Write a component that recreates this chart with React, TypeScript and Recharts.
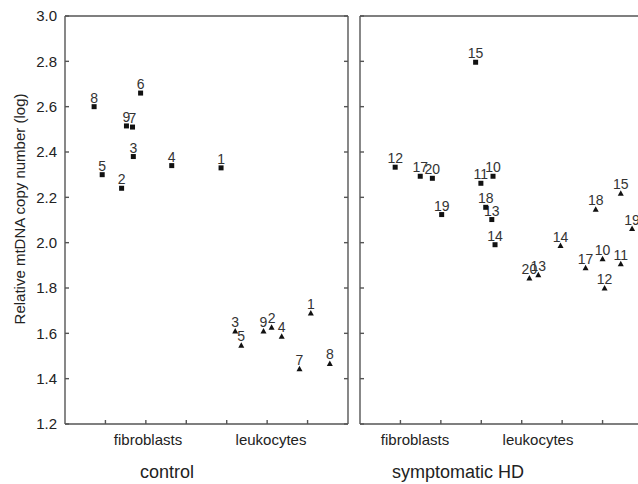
import React from 'react';
import { ScatterChart, Scatter, XAxis, YAxis, Label } from 'recharts';

const FONT = '"Liberation Sans", Arial, Helvetica, sans-serif';

const yTicks = [1.2, 1.4, 1.6, 1.8, 2.0, 2.2, 2.4, 2.6, 2.8, 3.0];
const xTicks = [1, 2, 3, 4, 5, 6];
const categoryNames = ['fibroblasts', 'leukocytes'];
const groupTitles = ['control', 'symptomatic HD'];
const yAxisTitle = 'Relative mtDNA copy number (log)';

// control – fibroblasts
const ctrlFibroIds = [1, 2, 3, 4, 5, 6, 7, 8, 9];
const ctrlFibroX = [3.86, 1.4, 1.69, 2.64, 0.92, 1.87, 1.67, 0.72, 1.52];
const ctrlFibroY = [2.33, 2.24, 2.38, 2.34, 2.3, 2.66, 2.51, 2.6, 2.515];

// control – leukocytes
const ctrlLeukoIds = [1, 2, 3, 4, 5, 7, 8, 9];
const ctrlLeukoX = [6.08, 5.11, 4.21, 5.36, 4.36, 5.8, 6.55, 4.91];
const ctrlLeukoY = [1.69, 1.627, 1.61, 1.587, 1.547, 1.444, 1.467, 1.61];

// symptomatic HD – fibroblasts
const hdFibroIds = [10, 11, 12, 13, 14, 15, 17, 18, 19, 20];
const hdFibroX = [3.29, 2.99, 0.87, 3.26, 3.34, 2.86, 1.49, 3.11, 2.02, 1.79];
const hdFibroY = [2.293, 2.262, 2.333, 2.102, 1.991, 2.796, 2.293, 2.156, 2.124, 2.284];

// symptomatic HD – leukocytes
const hdLeukoIds = [10, 11, 12, 13, 14, 15, 17, 18, 19, 20];
const hdLeukoX = [6.0, 6.45, 6.05, 4.41, 4.96, 6.45, 5.58, 5.83, 6.73, 4.19];
const hdLeukoY = [1.929, 1.907, 1.8, 1.858, 1.987, 2.218, 1.889, 2.147, 2.062, 1.844];

const build = (ids: number[], xs: number[], ys: number[]) =>
  ids.map((id, i) => ({ id, x: xs[i], y: ys[i] }));

const makeShape = (kind: 'square' | 'triangle') => (props: any) => {
  const { cx, cy, payload } = props;
  if (cx == null || cy == null) return <g />;
  return (
    <g>
      {kind === 'square' ? (
        <rect x={cx - 2.5} y={cy - 2.5} width={5} height={5} fill="#111" />
      ) : (
        <polygon
          points={`${cx},${cy - 3} ${cx + 3},${cy + 2.5} ${cx - 3},${cy + 2.5}`}
          fill="#111"
        />
      )}
      <text
        x={cx}
        y={cy - 4}
        textAnchor="middle"
        fontSize={14}
        fontFamily={FONT}
        fill="#333"
      >
        {payload.id}
      </text>
    </g>
  );
};

const squareShape = makeShape('square');
const triangleShape = makeShape('triangle');

const AXIS = '#555';
const lineStyle = { stroke: AXIS, strokeWidth: 1.4 };
const blank = () => '';

type PanelProps = {
  left: number;
  width: number;
  margin: { top: number; right: number; bottom: number; left: number };
  showYLabels: boolean;
  fibro: { id: number; x: number; y: number }[];
  leuko: { id: number; x: number; y: number }[];
};

const Panel = (p: PanelProps) => (
  <div style={{ position: 'absolute', left: p.left, top: 0 }}>
    <ScatterChart width={p.width} height={484} margin={p.margin}>
      <XAxis
        xAxisId="x"
        dataKey="x"
        type="number"
        domain={[0, 7]}
        ticks={xTicks}
        orientation="bottom"
        height={1}
        mirror
        tickSize={4}
        tickFormatter={blank}
        stroke={AXIS}
        axisLine={lineStyle}
        tickLine={lineStyle}
        allowDataOverflow
      />
      <XAxis
        xAxisId="top"
        type="number"
        domain={[0, 7]}
        ticks={xTicks}
        orientation="top"
        height={1}
        mirror
        tickSize={4}
        tickFormatter={blank}
        stroke={AXIS}
        axisLine={lineStyle}
        tickLine={lineStyle}
        allowDataOverflow
      />
      <YAxis
        yAxisId="y"
        dataKey="y"
        type="number"
        domain={[1.2, 3.0]}
        ticks={yTicks}
        width={1}
        mirror
        tickSize={4}
        interval={0}
        tickFormatter={blank}
        stroke={AXIS}
        axisLine={lineStyle}
        tickLine={lineStyle}
        allowDataOverflow
      />
      {p.showYLabels && (
        <YAxis
          yAxisId="lab"
          type="number"
          domain={[1.2, 3.0]}
          ticks={yTicks}
          width={65}
          axisLine={false}
          tickLine={false}
          tickSize={0}
          tickMargin={8}
          interval={0}
          tickFormatter={(v: number) => v.toFixed(1)}
          tick={{ fontSize: 15, fill: '#222', fontFamily: FONT }}
          allowDataOverflow
        >
          <Label
            position="insideLeft"
            content={(lp: any) => {
              const vb = lp.viewBox || { x: 0, y: 17, height: 405 };
              const cx = 19;
              const cy = vb.y + vb.height / 2 - 11;
              return (
                <text
                  x={cx}
                  y={cy}
                  transform={`rotate(-90 ${cx} ${cy})`}
                  textAnchor="middle"
                  dominantBaseline="central"
                  fontSize={15}
                  fontFamily={FONT}
                  fill="#222"
                >
                  {yAxisTitle}
                </text>
              );
            }}
          />
        </YAxis>
      )}
      <YAxis
        yAxisId="r"
        type="number"
        domain={[1.2, 3.0]}
        ticks={yTicks}
        orientation="right"
        width={1}
        mirror
        tickSize={4}
        interval={0}
        tickFormatter={blank}
        stroke={AXIS}
        axisLine={lineStyle}
        tickLine={lineStyle}
        allowDataOverflow
      />
      <Scatter
        xAxisId="x"
        yAxisId="y"
        data={p.fibro}
        shape={squareShape}
        isAnimationActive={false}
      />
      <Scatter
        xAxisId="x"
        yAxisId="y"
        data={p.leuko}
        shape={triangleShape}
        isAnimationActive={false}
      />
    </ScatterChart>
  </div>
);

const textStyle = (
  center: number,
  top: number,
  size: number
): React.CSSProperties => ({
  position: 'absolute',
  top,
  left: center - 100,
  width: 200,
  textAlign: 'center',
  fontSize: size,
  fontFamily: FONT,
  color: '#222',
  lineHeight: `${size}px`,
  whiteSpace: 'nowrap',
});

export default function App() {
  return (
    <div
      style={{
        position: 'absolute',
        left: 0,
        top: 0,
        width: 638,
        height: 484,
        overflow: 'hidden',
        background: '#fff',
      }}
    >
      <Panel
        left={0}
        width={360}
        margin={{ top: 16, right: 12, bottom: 60, left: 0 }}
        showYLabels
        fibro={build(ctrlFibroIds, ctrlFibroX, ctrlFibroY)}
        leuko={build(ctrlLeukoIds, ctrlLeukoX, ctrlLeukoY)}
      />
      <Panel
        left={300}
        width={360}
        margin={{ top: 16, right: 17, bottom: 60, left: 60 }}
        showYLabels={false}
        fibro={build(hdFibroIds, hdFibroX, hdFibroY)}
        leuko={build(hdLeukoIds, hdLeukoX, hdLeukoY)}
      />
      <div style={textStyle(148, 432, 15)}>{categoryNames[0]}</div>
      <div style={textStyle(271, 432, 15)}>{categoryNames[1]}</div>
      <div style={textStyle(415, 432, 15)}>{categoryNames[0]}</div>
      <div style={textStyle(538, 432, 15)}>{categoryNames[1]}</div>
      <div style={textStyle(167, 463, 18)}>{groupTitles[0]}</div>
      <div style={textStyle(458, 463, 18)}>{groupTitles[1]}</div>
    </div>
  );
}
